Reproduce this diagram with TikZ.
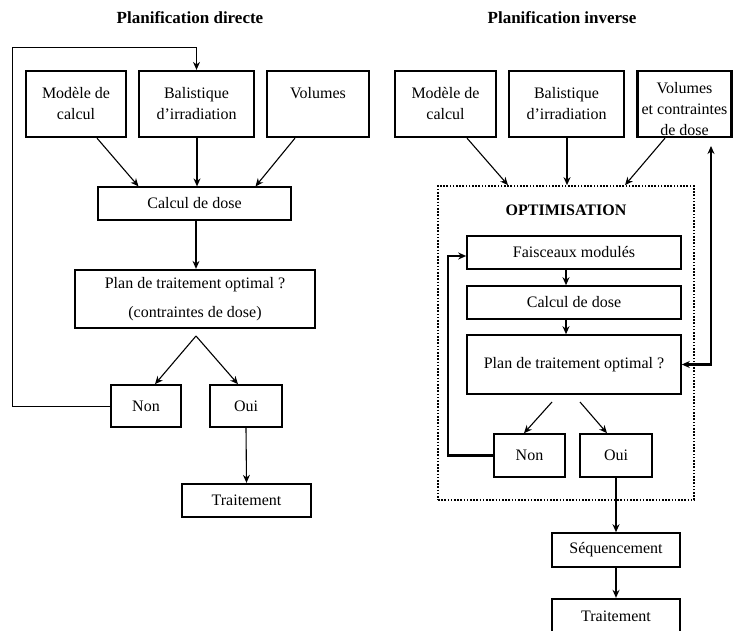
\documentclass[tikz,border=0pt]{standalone}
\usepackage{fontspec}
\setmainfont{Liberation Serif}
\usetikzlibrary{arrows.meta}
\begin{document}
\begin{tikzpicture}[x=1pt,y=-1pt,
  every node/.style={font=\fontsize{16}{21}\selectfont, inner sep=0pt, align=center},
  tbox/.style={draw, line width=2.3pt},
  nbox/.style={draw, line width=1.6pt},
  fbox/.style={draw, line width=1.2pt},
  title/.style={font=\fontsize{17}{21}\selectfont\bfseries},
  arr/.style={-{Stealth[length=8pt,width=7pt]}, line width=1.1pt},
  arrt/.style={-{Stealth[length=8pt,width=7pt]}, line width=2.1pt},
  dotbox/.style={draw, line width=1.7pt, dash pattern=on 1.6pt off 1.6pt}
]
\useasboundingbox (0,0) rectangle (733,631);

% ---------------- Left: Planification directe
\node[title] (t1) at (190,18) {Planification directe};
\node[tbox, minimum width=100, minimum height=66] (mod1) at (76,104) {Modèle de\\calcul};
\node[tbox, minimum width=115, minimum height=66] (bal1) at (196.5,104) {Balistique\\d’irradiation};
\node[tbox, minimum width=102, minimum height=66] (vol1) at (318,104) {Volumes\\\phantom{calcul}};
\node[fbox, minimum width=193, minimum height=33] (calc1) at (194.5,203.5) {Calcul de dose};
\node[tbox, minimum width=240, minimum height=58] (plan1) at (195,299) {Plan de traitement optimal ?\\[8pt](contraintes de dose)};
\node[nbox, minimum width=70, minimum height=42] (non1) at (146,406) {Non};
\node[nbox, minimum width=72, minimum height=42] (oui1) at (246,406) {Oui};
\node[tbox, minimum width=129, minimum height=33] (trt1) at (246.5,500.5) {Traitement};

\draw[arr] ([xshift=21]mod1.south) -- ([xshift=-56]calc1.north);
\draw[arrt] ([xshift=0.5]bal1.south) -- ([xshift=2.5]calc1.north);
\draw[arr] ([xshift=-23]vol1.south) -- ([xshift=61]calc1.north);
\draw[arr] ([xshift=1.5]calc1.south) -- ([xshift=1]plan1.north);
\coordinate (sp1) at (196,336);
\draw[arr] (sp1) -- ([xshift=9]non1.north);
\draw[arr] (sp1) -- ([xshift=-8]oui1.north);
\draw[arr] (oui1.south) -- (trt1.north);
\coordinate (fb1) at (12,47);
\draw[arr, line width=0.9pt] (non1.west) -| (fb1) -| (bal1.north);

% ---------------- Right: Planification inverse
\node[title] (t2) at (562,18) {Planification inverse};
\node[tbox, minimum width=101, minimum height=66] (mod2) at (445.5,104) {Modèle de\\calcul};
\node[tbox, minimum width=115, minimum height=66] (bal2) at (566.5,104) {Balistique\\d’irradiation};
\node[tbox, minimum width=94, minimum height=66] (vol2) at (684.5,104) {};
\node[font=\fontsize{16}{21}\selectfont] (vol2t) at (684.5,109) {Volumes\\et contraintes\\de dose};

\node[dotbox, minimum width=256, minimum height=314] (opt) at (566,343) {};
\node[font=\fontsize{16}{21}\selectfont\bfseries] (optt) at (566,210) {OPTIMISATION};

\node[nbox, minimum width=214, minimum height=33] (fais) at (574,252.5) {Faisceaux modulés};
\node[nbox, minimum width=214, minimum height=33] (calc2) at (574,302.5) {Calcul de dose};
\node[nbox, minimum width=214, minimum height=59] (plan2) at (574,364.5) {Plan de traitement optimal ?};
\node[nbox, minimum width=71, minimum height=43] (non2) at (529.5,455.5) {Non};
\node[nbox, minimum width=72, minimum height=43] (oui2) at (616,455.5) {Oui};
\node[nbox, minimum width=128, minimum height=34] (seq) at (616,550) {Séquencement};
\node[tbox, minimum width=128, minimum height=34] (trt2) at (616,616) {Traitement};

\draw[arr] ([xshift=21.5]mod2.south) -- ([xshift=-58]opt.north);
\draw[arrt] ([xshift=0.5]bal2.south) -- ([xshift=1]opt.north);
\draw[arr] ([xshift=-19.5]vol2.south) -- ([xshift=59]opt.north);
\draw[arrt] ([xshift=-8]fais.south) -- ([xshift=-8]calc2.north);
\draw[arrt] ([xshift=-8]calc2.south) -- ([xshift=-8]plan2.north);
\coordinate (vt) at (711,146);
\draw[{Stealth[length=8pt,width=7pt]}-{Stealth[length=8pt,width=7pt]}, line width=2.1pt] (plan2.east) -| (vt);
\draw[arr] (552,402) -- ([xshift=-5.5]non2.north);
\draw[arr] (580,402) -- ([xshift=-9]oui2.north);
\coordinate (fb2) at (448,256);
\draw[arrt] (non2.west) -| (fb2) -- (fais.west |- fb2);
\draw[arrt] (oui2.south) -- (seq.north);
\draw[arrt] (seq.south) -- (trt2.north);
\end{tikzpicture}
\end{document}
